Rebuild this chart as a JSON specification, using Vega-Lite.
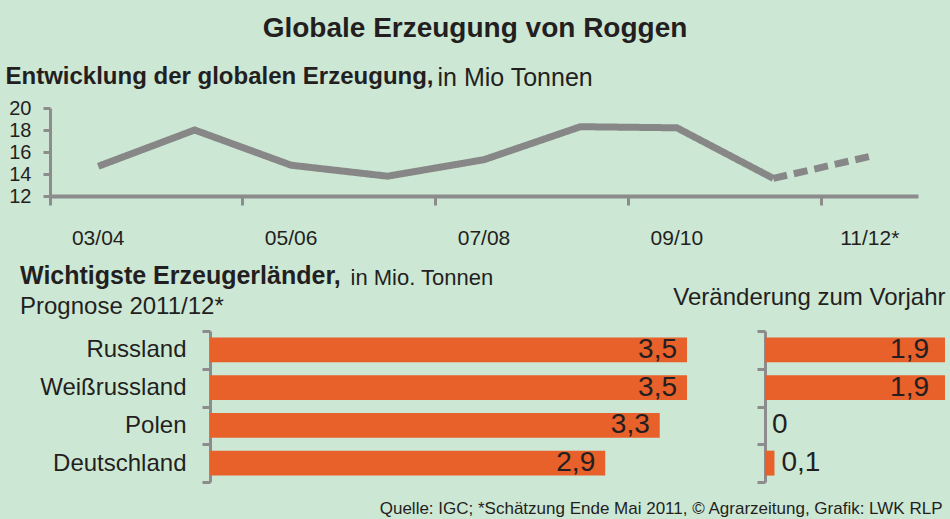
{
  "$schema": "https://vega.github.io/schema/vega-lite/v6.json",
  "background": "#cde7d5",
  "padding": {"left": 5, "top": 15, "right": 5, "bottom": 3},
  "title": {
    "text": "Globale Erzeugung von Roggen",
    "fontSize": 28,
    "fontWeight": "bold",
    "color": "#231f20",
    "anchor": "middle",
    "offset": 21
  },
  "config": {
    "view": {"stroke": null},
    "font": "Liberation Sans, Arial, sans-serif",
    "axis": {"labelColor": "#231f20", "titleColor": "#231f20", "grid": false},
    "title": {"color": "#231f20", "subtitleColor": "#231f20", "font": "Liberation Sans, Arial, sans-serif", "subtitleFont": "Liberation Sans, Arial, sans-serif"}
  },
  "data": {
    "values": [
      {"land": "Russland", "menge": 3.5, "label": "3,5", "veraenderung": 1.9, "vlabel": "1,9"},
      {"land": "Weißrussland", "menge": 3.5, "label": "3,5", "veraenderung": 1.9, "vlabel": "1,9"},
      {"land": "Polen", "menge": 3.3, "label": "3,3", "veraenderung": 0, "vlabel": "0"},
      {"land": "Deutschland", "menge": 2.9, "label": "2,9", "veraenderung": 0.1, "vlabel": "0,1"}
    ]
  },
  "spacing": 16,
  "vconcat": [
    {
      "width": 868,
      "height": 88,
      "data": {
        "values": [
          {"jahr": "03/04", "wert": 14.7, "reihe": "Ist"},
          {"jahr": "04/05", "wert": 18.0, "reihe": "Ist"},
          {"jahr": "05/06", "wert": 14.8, "reihe": "Ist"},
          {"jahr": "06/07", "wert": 13.8, "reihe": "Ist"},
          {"jahr": "07/08", "wert": 15.3, "reihe": "Ist"},
          {"jahr": "08/09", "wert": 18.3, "reihe": "Ist"},
          {"jahr": "09/10", "wert": 18.2, "reihe": "Ist"},
          {"jahr": "10/11", "wert": 13.6, "reihe": "Ist"},
          {"jahr": "10/11", "wert": 13.6, "reihe": "Prognose"},
          {"jahr": "11/12*", "wert": 15.6, "reihe": "Prognose"}
        ]
      },
      "mark": {"type": "line", "strokeWidth": 7, "color": "#878787", "strokeCap": "butt", "strokeJoin": "miter"},
      "encoding": {
        "x": {
          "field": "jahr",
          "type": "ordinal",
          "sort": ["03/04", "04/05", "05/06", "06/07", "07/08", "08/09", "09/10", "10/11", "11/12*"],
          "scale": {"type": "band", "paddingInner": 0, "paddingOuter": 0},
          "axis": {
            "title": "in Mio Tonnen",
            "titleX": 387,
            "titleY": -111,
            "titleAlign": "left",
            "titleBaseline": "alphabetic",
            "titleFontSize": 25,
            "titleFontWeight": "normal",
            "values": ["03/04", "05/06", "07/08", "09/10", "11/12*"],
            "bandPosition": 0,
            "labelAngle": 0,
            "labelFontSize": 21,
            "labelPadding": 22,
            "tickSize": 9,
            "tickWidth": 3,
            "tickColor": "#8c8c8c",
            "domainColor": "#8c8c8c",
            "domainWidth": 4
          }
        },
        "y": {
          "field": "wert",
          "type": "quantitative",
          "scale": {"domain": [12, 20], "nice": false, "zero": false},
          "axis": {
            "title": "Entwicklung der globalen Erzeugung,",
            "titleAngle": 0,
            "titleX": -45,
            "titleY": -25,
            "titleAlign": "left",
            "titleBaseline": "alphabetic",
            "titleFontSize": 24,
            "titleFontWeight": "bold",
            "values": [12, 14, 16, 18, 20],
            "labelFontSize": 20,
            "labelPadding": 12,
            "tickSize": 7,
            "tickWidth": 3,
            "tickColor": "#8c8c8c",
            "domainColor": "#8c8c8c",
            "domainWidth": 3
          }
        },
        "strokeDash": {
          "field": "reihe",
          "type": "nominal",
          "scale": {"domain": ["Ist", "Prognose"], "range": [[1, 0], [14, 7]]},
          "legend": null
        }
      }
    },
    {
      "hconcat": [
        {
          "width": 82,
          "height": 151,
          "data": {"values": []},
          "mark": "point"
        },
        {
          "width": 477,
          "height": 151,
          "title": {
            "text": "Wichtigste Erzeugerländer,",
            "subtitle": "Prognose 2011/12*",
            "anchor": "start",
            "fontSize": 25,
            "fontWeight": "bold",
            "subtitleFontSize": 24,
            "subtitleFontWeight": "normal",
            "subtitlePadding": 6,
            "dx": 15,
            "offset": 0
          },
          "encoding": {
            "y": {
              "field": "land",
              "type": "nominal",
              "sort": ["Russland", "Weißrussland", "Polen", "Deutschland"],
              "scale": {"paddingInner": 0, "paddingOuter": 0},
              "axis": {
                "title": null,
                "labelFontSize": 24,
                "labelPadding": 16,
                "minExtent": 205,
                "tickBand": "extent",
                "tickSize": 8,
                "tickWidth": 3,
                "tickColor": "#8c8c8c",
                "domainColor": "#8c8c8c",
                "domainWidth": 3
              }
            },
            "x": {
              "field": "menge",
              "type": "quantitative",
              "scale": {"domain": [0, 3.5], "nice": false},
              "axis": {
                "title": "Quelle: IGC; *Schätzung Ende Mai 2011, © Agrarzeitung,  Grafik: LWK RLP",
                "labels": false,
                "ticks": false,
                "domain": false,
                "titleX": 732,
                "titleY": 31,
                "titleAlign": "right",
                "titleBaseline": "alphabetic",
                "titleFontSize": 17,
                "titleFontWeight": "normal"
              }
            }
          },
          "layer": [
            {"mark": {"type": "bar", "color": "#e8602a", "height": {"band": 0.66}}},
            {
              "mark": {"type": "text", "align": "right", "baseline": "middle", "dx": -10, "fontSize": 28, "color": "#231f20"},
              "encoding": {"text": {"field": "label"}}
            }
          ]
        },
        {
          "width": 180,
          "height": 151,
          "encoding": {
            "y": {
              "field": "land",
              "type": "nominal",
              "sort": ["Russland", "Weißrussland", "Polen", "Deutschland"],
              "scale": {"paddingInner": 0, "paddingOuter": 0},
              "axis": {
                "title": "in Mio. Tonnen",
                "titleAngle": 0,
                "titleX": -415,
                "titleY": -47,
                "titleAlign": "left",
                "titleBaseline": "alphabetic",
                "titleFontSize": 22,
                "titleFontWeight": "normal",
                "labels": false,
                "tickBand": "extent",
                "tickSize": 8,
                "tickWidth": 3,
                "tickColor": "#8c8c8c",
                "domainColor": "#8c8c8c",
                "domainWidth": 3
              }
            },
            "x": {
              "field": "veraenderung",
              "type": "quantitative",
              "scale": {"domain": [0, 1.9], "nice": false},
              "axis": {
                "orient": "top",
                "title": "Veränderung zum Vorjahr",
                "labels": false,
                "ticks": false,
                "domain": false,
                "titleX": 180,
                "titleY": -27,
                "titleAlign": "right",
                "titleBaseline": "alphabetic",
                "titleFontSize": 24,
                "titleFontWeight": "normal"
              }
            }
          },
          "layer": [
            {"mark": {"type": "bar", "color": "#e8602a", "height": {"band": 0.66}}},
            {
              "transform": [{"filter": "datum.veraenderung >= 1"}],
              "mark": {"type": "text", "align": "right", "baseline": "middle", "dx": -16, "fontSize": 28, "color": "#231f20"},
              "encoding": {"text": {"field": "vlabel"}}
            },
            {
              "transform": [{"filter": "datum.veraenderung < 1"}],
              "mark": {"type": "text", "align": "left", "baseline": "middle", "dx": 7, "fontSize": 28, "color": "#231f20"},
              "encoding": {"text": {"field": "vlabel"}}
            }
          ]
        }
      ],
      "spacing": 78,
      "bounds": "flush"
    }
  ]
}
